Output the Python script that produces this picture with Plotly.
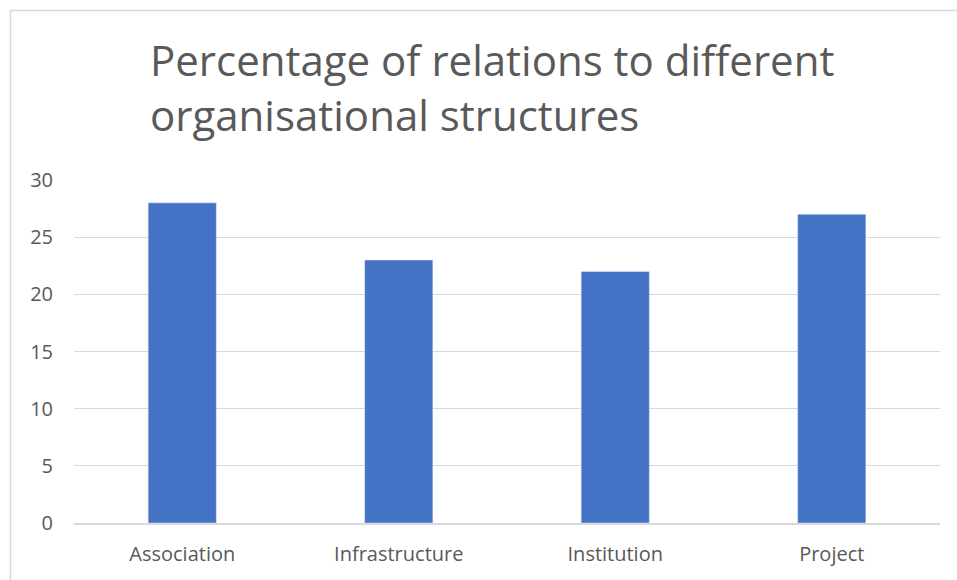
import plotly.graph_objects as go

categories = ["Association", "Infrastructure", "Institution", "Project"]
values = [28, 23, 22, 27]
y_ticks = [0, 5, 10, 15, 20, 25, 30]

W, H = 957, 580
L, R, T, B = 74, 17, 180, 57
pw, ph = W - L - R, H - T - B

fig = go.Figure(go.Bar(
    x=categories, y=values, marker_color="#4472C4", width=0.315,
))

def px2paper_x(px):
    return (px - L) / pw

def px2paper_y(py):
    return (H - B - py) / ph

fig.add_shape(type="rect", xref="paper", yref="paper",
              x0=px2paper_x(10.5), x1=px2paper_x(1000), y0=px2paper_y(1000), y1=px2paper_y(10.5),
              line=dict(color="#d9d9d9", width=1.5), fillcolor="rgba(0,0,0,0)", layer="below")

fig.update_layout(
    width=W, height=H,
    margin=dict(l=L, r=R, t=T, b=B),
    paper_bgcolor="white", plot_bgcolor="white",
    font=dict(family="Open Sans", color="#595959", size=20),
    title=dict(text="Percentage of relations to different<br>organisational structures",
               x=150 / W, xanchor="left", y=1 - 76 / H, yanchor="top",
               font=dict(size=42, color="#595959", family="Open Sans")),
    showlegend=False,
    bargap=0.685,
    xaxis=dict(showline=True, linecolor="#d9d9d9", linewidth=1.5, ticks="",
               ticklabelstandoff=12,
               tickfont=dict(size=20, color="#595959"), showgrid=False),
    yaxis=dict(range=[0, 30], tickvals=y_ticks, showgrid=True, gridcolor="#d9d9d9",
               gridwidth=1.2, zeroline=False, ticks="", ticklabelstandoff=20,
               tickfont=dict(size=20, color="#595959")),
)

fig.write_html("out.html")
